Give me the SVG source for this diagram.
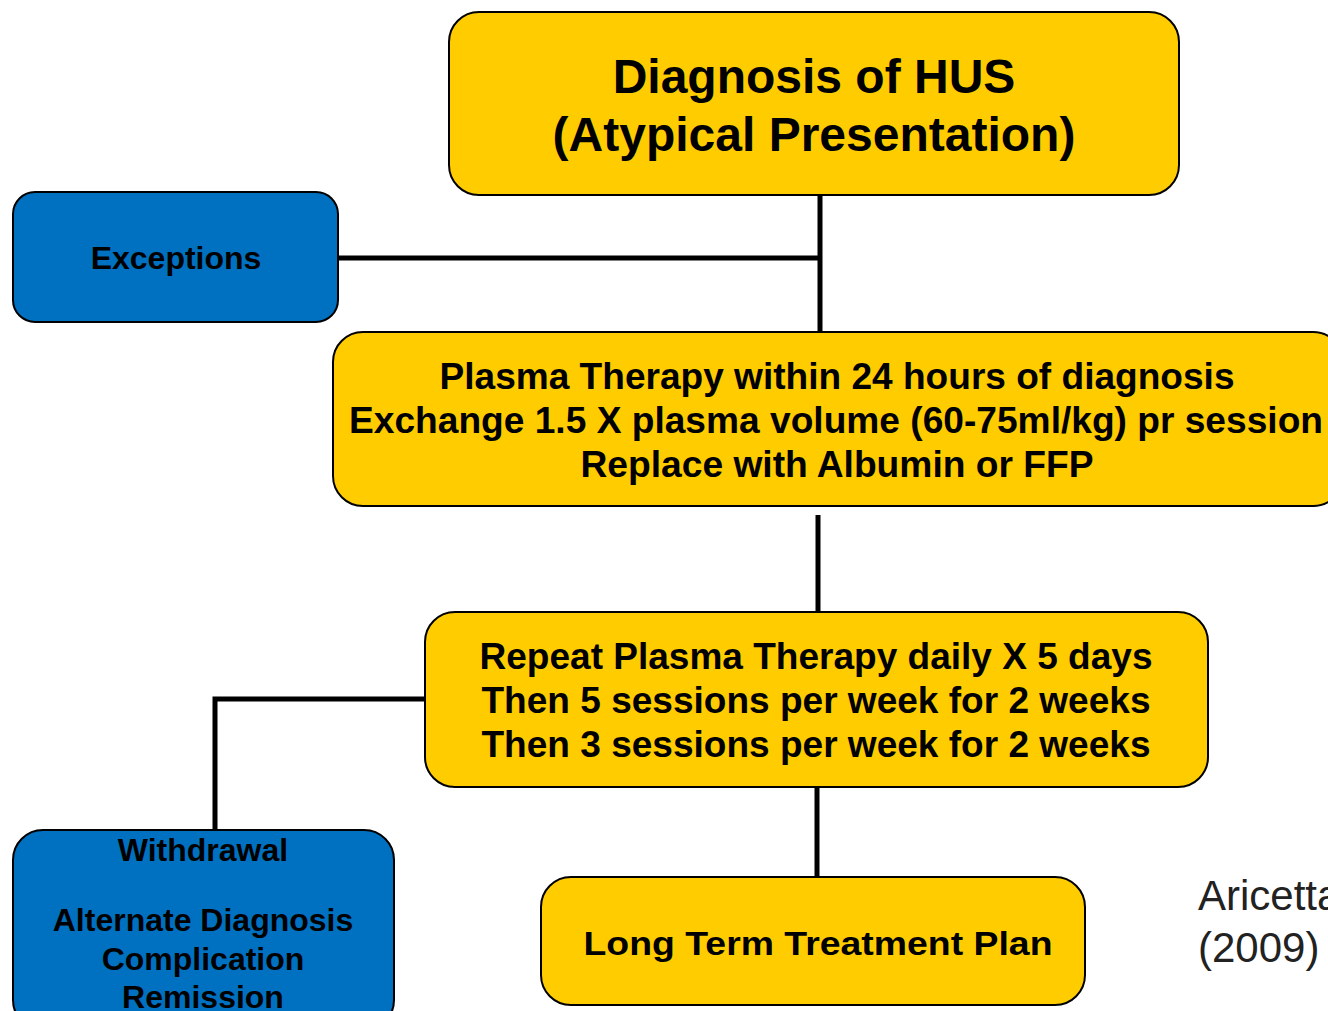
<svg xmlns="http://www.w3.org/2000/svg" width="1328" height="1011" viewBox="0 0 1328 1011">
<style>
.y{fill:#FFCC00;stroke:#000;stroke-width:2}
.b{fill:#0070C0;stroke:#000;stroke-width:2}
.t{font-family:"Liberation Sans",Arial,sans-serif;font-weight:bold;fill:#000;text-anchor:middle}
.c{stroke:#000;stroke-width:5;fill:none}
.r{font-family:"Liberation Sans",Arial,sans-serif;font-size:42px;fill:#222}
</style>
<rect width="1328" height="1011" fill="#fff"/>
<g id="connectors">
<path class="c" d="M820 195V332"/>
<path class="c" d="M338 258H820"/>
<path class="c" d="M818 515V612"/>
<path class="c" d="M425 699H215V831"/>
<path class="c" d="M817 787V877"/>
</g>
<g id="n1">
<rect class="y" x="449" y="12" width="730" height="183" rx="30"/>
<text class="t" x="814" y="93" font-size="48">Diagnosis of HUS</text>
<text class="t" x="814" y="151" font-size="48">(Atypical Presentation)</text>
</g>
<g id="n2">
<rect class="b" x="13" y="192" width="325" height="130" rx="22"/>
<text class="t" x="176" y="269" font-size="32">Exceptions</text>
</g>
<g id="n3">
<rect class="y" x="333" y="332" width="1010" height="174" rx="30"/>
<text class="t" x="837" y="389" font-size="36" textLength="795" lengthAdjust="spacingAndGlyphs">Plasma Therapy within 24 hours of diagnosis</text>
<text class="t" x="836" y="433" font-size="36" textLength="974" lengthAdjust="spacingAndGlyphs">Exchange 1.5 X plasma volume (60-75ml/kg) pr session</text>
<text class="t" x="837" y="477" font-size="36" textLength="513" lengthAdjust="spacingAndGlyphs">Replace with Albumin or FFP</text>
</g>
<g id="n4">
<rect class="y" x="425" y="612" width="783" height="175" rx="30"/>
<text class="t" x="816" y="669" font-size="36" textLength="673" lengthAdjust="spacingAndGlyphs">Repeat Plasma Therapy daily X 5 days</text>
<text class="t" x="816" y="713" font-size="36" textLength="669" lengthAdjust="spacingAndGlyphs">Then 5 sessions per week for 2 weeks</text>
<text class="t" x="816" y="757" font-size="36" textLength="669" lengthAdjust="spacingAndGlyphs">Then 3 sessions per week for 2 weeks</text>
</g>
<g id="n5">
<rect class="b" x="13" y="830" width="381" height="200" rx="30"/>
<text class="t" x="203" y="861" font-size="32">Withdrawal</text>
<text class="t" x="203" y="931" font-size="32">Alternate Diagnosis</text>
<text class="t" x="203" y="970" font-size="32">Complication</text>
<text class="t" x="203" y="1008" font-size="32">Remission</text>
</g>
<g id="n6">
<rect class="y" x="541" y="877" width="544" height="128" rx="30"/>
<text class="t" x="818" y="955" font-size="34" textLength="469" lengthAdjust="spacingAndGlyphs">Long Term Treatment Plan</text>
</g>
<g id="citation">
<text class="r" x="1198" y="910">Aricetta</text>
<text class="r" x="1198" y="962">(2009)</text>
</g>
</svg>
